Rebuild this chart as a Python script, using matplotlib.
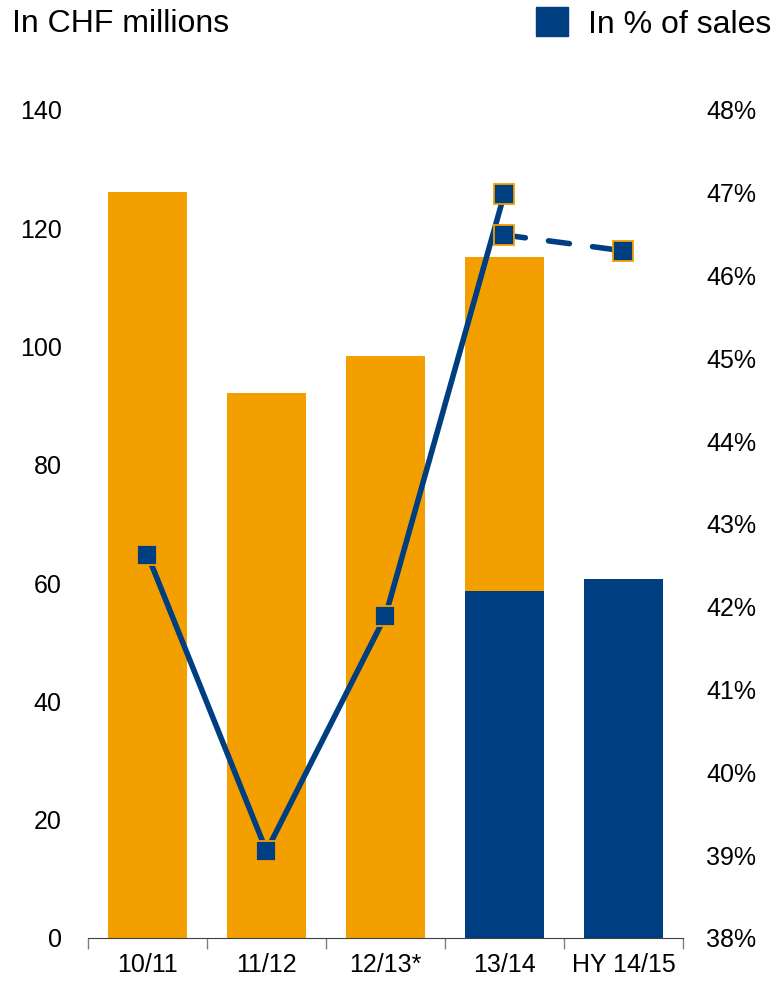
import matplotlib
matplotlib.use('Agg')
import matplotlib.pyplot as plt
from matplotlib.patches import Patch

plt.rcParams['font.family'] = ['Liberation Sans', 'DejaVu Sans']

# dados
categorias = ['10/11', '11/12', '12/13*', '13/14', 'HY 14/15']
valores_laranja = [126.1, 92.2, 98.4, 115.2, 0]
valores_azul = [0, 0, 0, 58.7, 60.7]
pct_solida = [42.63, 39.05, 41.89, 46.99]
pct_tracejada = [46.49, 46.30]

laranja = '#F39F00'
azul = '#003E82'

fig = plt.figure(figsize=(7.76, 9.83), dpi=100)
ax = fig.add_axes([0.1134, 0.0458, 0.7666, 0.8423])

x = range(len(categorias))
ax.bar(x, valores_laranja, width=0.67, color=laranja, zorder=2)
ax.bar(x, valores_azul, width=0.67, color=azul, zorder=3)

ax.set_xlim(-0.5, 4.5)
ax.set_ylim(0, 140)
ax.set_yticks(range(0, 141, 20))
ax.set_xticks(list(x))
ax.set_xticklabels(categorias)
ax.set_xticks([i - 0.5 for i in range(6)], minor=True)
ax.tick_params(axis='x', which='major', length=0, labelsize=18, pad=11)
ax.tick_params(axis='x', which='minor', length=8, color='#808080', width=1)
ax.tick_params(axis='y', length=0, labelsize=18, pad=19)
for lado in ['left', 'right', 'top']:
    ax.spines[lado].set_visible(False)
ax.spines['bottom'].set_color('#404040')

ax2 = ax.twinx()
ax2.set_ylim(38, 48)
ax2.set_yticks(range(38, 49))
ax2.set_yticklabels([f'{v}%' for v in range(38, 49)])
ax2.tick_params(axis='y', length=0, labelsize=18, pad=17)
for lado in ['left', 'right', 'top', 'bottom']:
    ax2.spines[lado].set_visible(False)

ax2.plot(range(4), pct_solida, color=azul, linewidth=4, marker='s',
         markersize=14, markerfacecolor=azul, markeredgecolor=laranja,
         markeredgewidth=1.3, zorder=5)
ax2.plot([3, 4], pct_tracejada, color=azul, linewidth=4, linestyle=(0, (3.8, 4.2)),
         dash_capstyle='round', marker='s', markersize=14, markerfacecolor=azul,
         markeredgecolor=laranja, markeredgewidth=1.3, zorder=5)

fig.text(0.015, 0.976, 'In CHF millions', fontsize=23, va='center', ha='left')
fig.legend(handles=[Patch(color=azul, label='In % of sales')], loc='center right',
           bbox_to_anchor=(1.031, 0.976), frameon=False, fontsize=23,
           handlelength=1.0, handleheight=1.0, handletextpad=0.62)

fig.savefig('out.png', dpi=100)
